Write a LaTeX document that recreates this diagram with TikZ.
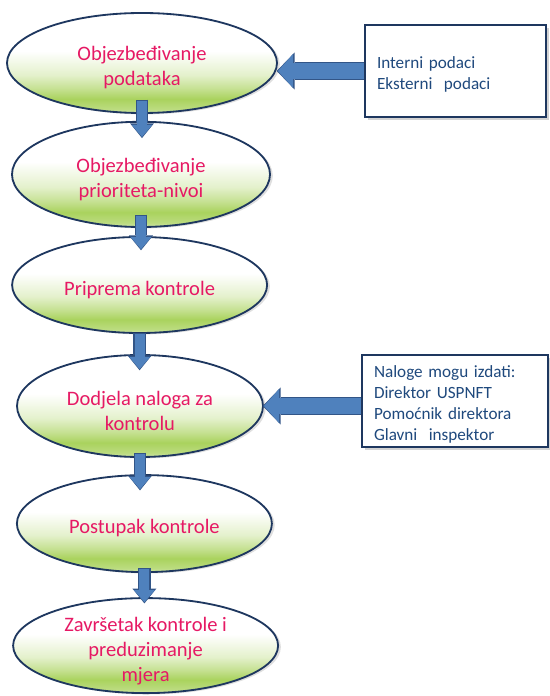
\documentclass[tikz,border=0pt]{standalone}
\usepackage{fontspec}
\setmainfont{Carlito}
\usepackage{xcolor}
\usetikzlibrary{shapes.geometric}
\usetikzlibrary{arrows.meta}
\usetikzlibrary{shadows}

\definecolor{ovalgreen}{RGB}{165,208,85}
\definecolor{ovalyellow}{RGB}{238,236,100}
\definecolor{ovalline}{RGB}{30,55,95}
\definecolor{ovaltext}{RGB}{230,25,100}
\definecolor{arrowblue}{RGB}{79,129,189}
\definecolor{arrowdark}{RGB}{50,85,135}
\definecolor{boxtext}{RGB}{31,73,125}

\pgfdeclareverticalshading{ovalfill}{100bp}{color(0bp)=(white); color(21bp)=(white); color(27bp)=(ovalgreen!75); color(32bp)=(ovalgreen!95); color(37bp)=(ovalgreen!65); color(44bp)=(ovalgreen!30); color(52bp)=(ovalgreen!10); color(56bp)=(white); color(80bp)=(white); color(88bp)=(ovalyellow!60); color(95bp)=(ovalyellow); color(100bp)=(ovalyellow)}

\tikzset{
  oval/.style={ellipse, draw=ovalline, line width=1.3pt, shade, shading=ovalfill, text=ovaltext,
    font=\fontsize{14.6}{17.8}\selectfont, align=center, inner sep=0pt, inner ysep=-0.3cm,
    drop shadow={opacity=0.25, shadow xshift=2pt, shadow yshift=-1pt}},
  infobox/.style={rectangle, draw=ovalline, line width=1.2pt, fill=white, text=boxtext,
    font=\fontsize{12.2}{14.9}\selectfont, align=left, text width=#1, inner sep=0pt,
    inner xsep=0.3cm, minimum height=2.3cm, text height=13pt,
    drop shadow={opacity=0.35, shadow xshift=2pt, shadow yshift=-2pt}},
  downarrow/.style 2 args={draw=arrowblue, line width=0.25cm,
    -{Triangle[width=0.52cm,length=0.3cm,line width=0pt]}, shorten <=#1, shorten >=#2,
    preaction={draw=arrowdark, line width=0.31cm,
      -{Triangle[width=0.6cm,length=0.37cm,line width=0pt]}, shorten <=#1-0.03cm, shorten >=#2-0.03cm}},
  sidearrow/.style={draw=arrowblue, line width=0.4cm,
    -{Triangle[width=0.85cm,length=0.38cm,line width=0pt]},
    preaction={draw=arrowdark, line width=0.46cm,
      -{Triangle[width=0.93cm,length=0.45cm,line width=0pt]}, shorten >=-0.03cm}}
}

\begin{document}
\begin{tikzpicture}
	\useasboundingbox (0,0) rectangle (13.725,17.4);
	% steps of the control
	\node[oval, minimum width=6.75cm, minimum height=2.5cm, text height=35pt] (E1) at (3.55,15.825) {Objezbeđivanje\\podataka};
	\node[oval, minimum width=6.45cm, minimum height=2.63cm, text height=35pt] (E2) at (3.525,13.04) {Objezbeđivanje\\prioriteta-nivoi};
	\node[oval, minimum width=6.375cm, minimum height=2.4cm, text height=17pt] (E3) at (3.49,10.275) {Priprema kontrole};
	\node[oval, minimum width=6.15cm, minimum height=2.55cm, text height=35pt] (E4) at (3.5,7.25) {Dodjela naloga za\\kontrolu};
	\node[oval, minimum width=6.375cm, minimum height=2.425cm, text height=17pt] (E5) at (3.61,4.31) {Postupak kontrole};
	\node[oval, minimum width=6.625cm, minimum height=2.375cm, text height=53pt] (E6) at (3.64,1.26) {Završetak kontrole i\\preduzimanje\\mjera};
	% inputs
	\node[infobox=3.925cm] (B1) at (11.3875,15.625) {Interni podaci\\Eksterni\ \ podaci};
	\node[infobox=4.05cm] (B2) at (11.375,7.375) {Naloge mogu izdati:\\Direktor USPNFT\\Pomoćnik direktora\\Glavni\ \ inspektor};
	% arrows
	\draw[downarrow={-0.325cm}{-0.4cm}] (E1.south) -- (E1.south |- E2.north);
	\draw[downarrow={-0.3cm}{-0.325cm}] (E2.south) -- (E2.south |- E3.north);
	\draw[downarrow={0cm}{-0.375cm}] (E3.south) -- (E3.south |- E4.north);
	\draw[downarrow={-0.1cm}{-0.375cm}] (E4.south) -- (E4.south |- E5.north);
	\draw[downarrow={-0.1cm}{-0.125cm}] (E5.south) -- (E5.south |- E6.north);
	\draw[sidearrow] (B1.west) -- (E1.east |- B1.west);
	\draw[sidearrow] (B2.west |- E4.east) -- (E4.east);
\end{tikzpicture}
\end{document}
